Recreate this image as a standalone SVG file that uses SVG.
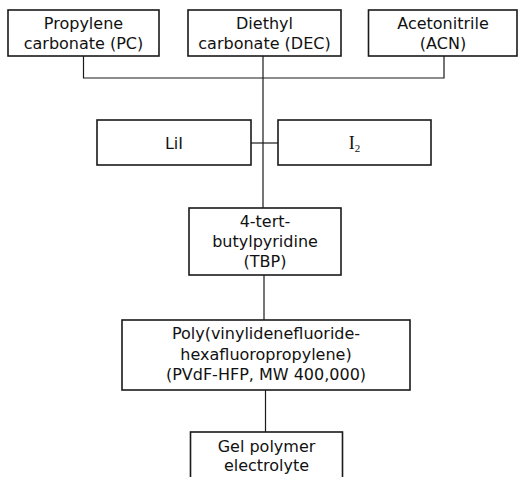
<svg xmlns="http://www.w3.org/2000/svg" width="518" height="477" viewBox="0 0 518 477">
<style>
.box{fill:#fff;stroke:#1a1a1a;stroke-width:1.6}
.con{fill:none;stroke:#1a1a1a;stroke-width:1.2}
text{font-family:"DejaVu Sans","Liberation Sans",sans-serif;font-size:16px;fill:#111;text-anchor:middle}
.serif{font-family:"Liberation Serif","DejaVu Serif",serif;font-size:18px}
</style>
<rect width="518" height="477" fill="#fff"/>
<g id="connectors">
<polyline class="con" points="83.5,56 83.5,78 444,78 444,56"/>
<line class="con" x1="263" y1="56" x2="263" y2="208"/>
<line class="con" x1="251" y1="143" x2="278" y2="143"/>
<line class="con" x1="264" y1="275" x2="264" y2="320"/>
<line class="con" x1="265.5" y1="390" x2="265.5" y2="432"/>
</g>
<g id="pc">
<rect class="box" x="8" y="10" width="151" height="46"/>
<text x="83.5" y="29">Propylene</text>
<text x="83.5" y="48.5">carbonate (PC)</text>
</g>
<g id="dec">
<rect class="box" x="188" y="10" width="153" height="46"/>
<text x="264.5" y="29">Diethyl</text>
<text x="264.5" y="48.5">carbonate (DEC)</text>
</g>
<g id="acn">
<rect class="box" x="368.5" y="10" width="148.5" height="46"/>
<text x="443" y="29">Acetonitrile</text>
<text x="443" y="48.5">(ACN)</text>
</g>
<g id="lii">
<rect class="box" x="97" y="120" width="154" height="45"/>
<text x="174" y="149">LiI</text>
</g>
<g id="i2">
<rect class="box" x="278" y="120" width="153" height="45"/>
<text class="serif" x="354.5" y="149">I<tspan font-size="11" dy="3">2</tspan></text>
</g>
<g id="tbp">
<rect class="box" x="189" y="208" width="152" height="67"/>
<text x="265" y="227">4-tert-</text>
<text x="265" y="247">butylpyridine</text>
<text x="265" y="267">(TBP)</text>
</g>
<g id="pvdf">
<rect class="box" x="122" y="320" width="288" height="70"/>
<text x="266" y="339">Poly(vinylidenefluoride-</text>
<text x="266" y="359.5">hexafluoropropylene)</text>
<text x="266" y="380">(PVdF-HFP, MW 400,000)</text>
</g>
<g id="gel">
<rect class="box" x="190.5" y="432" width="152" height="50"/>
<text x="266.5" y="452">Gel polymer</text>
<text x="266.5" y="471">electrolyte</text>
</g>
</svg>
